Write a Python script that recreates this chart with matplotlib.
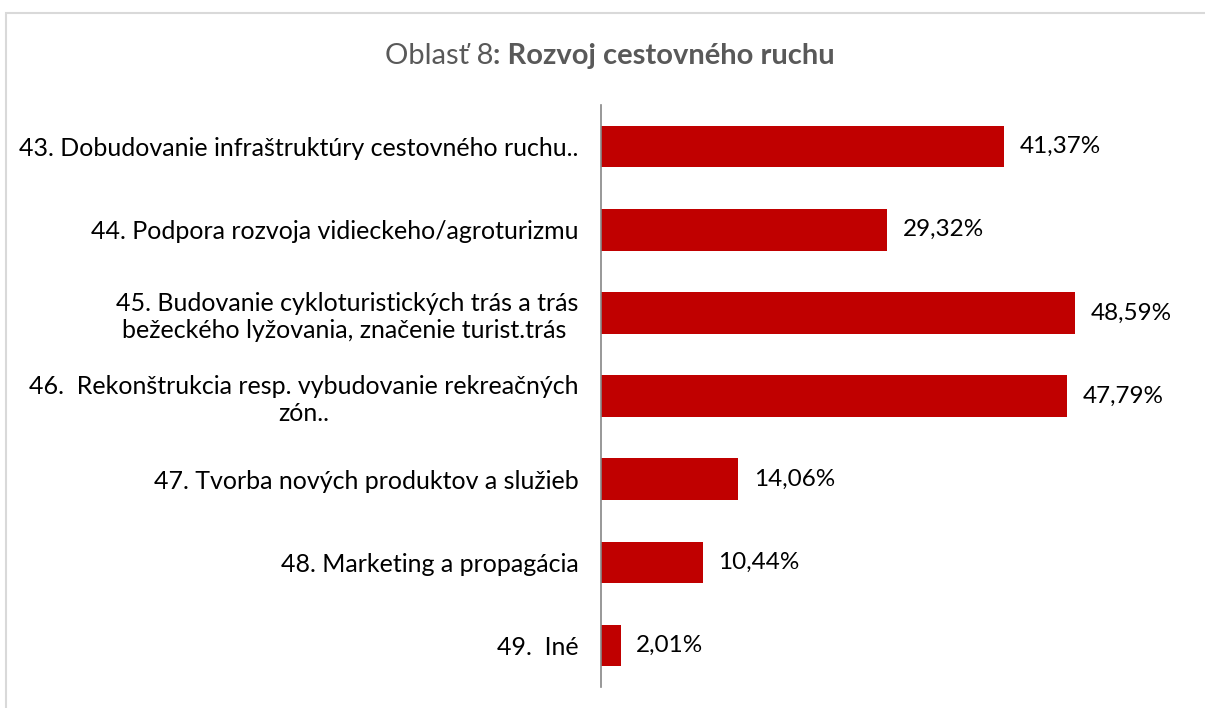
import matplotlib.pyplot as plt
from matplotlib.patches import Rectangle

plt.rcParams["font.family"] = ["Lato", "DejaVu Sans"]

categories = [
    "43. Dobudovanie infraštruktúry cestovného ruchu..",
    "44. Podpora rozvoja vidieckeho/agroturizmu",
    "45. Budovanie cykloturistických trás a trás\nbežeckého lyžovania, značenie turist.trás ",
    "46.  Rekonštrukcia resp. vybudovanie rekreačných\nzón..",
    "47. Tvorba nových produktov a služieb",
    "48. Marketing a propagácia",
    "49.  Iné",
]
values = [41.37, 29.32, 48.59, 47.79, 14.06, 10.44, 2.01]

bar_color = "#C00000"

fig = plt.figure(figsize=(12.05, 7.08), dpi=100)

# light frame around the chart area
fig.patches.append(Rectangle((5.5 / 1205, -0.1), 1.2, 1 - 13 / 708 + 0.1,
                             transform=fig.transFigure, fill=False,
                             edgecolor="#D9D9D9", linewidth=1.5))

ax = fig.add_axes([601 / 1205, 21 / 708, 585 / 1205, 582 / 708])
pos = list(range(len(categories)))
ax.barh(pos, values, height=0.5, color=bar_color)
ax.set_xlim(0, 60)
ax.set_ylim(len(categories) - 0.5, -0.5)

for p, v in zip(pos, values):
    ax.text(v + 1.6, p, f"{v:.2f}%".replace(".", ","), va="center", ha="left",
            fontsize=17.5, color="#000000")

ax.set_yticks(pos)
ax.set_yticklabels(categories, fontsize=18, color="#000000")
for lbl in ax.get_yticklabels():
    lbl.set_multialignment("center")
    lbl.set_linespacing(1.2)
ax.tick_params(axis="y", length=0, pad=16)
ax.set_xticks([])

for side in ["top", "right", "bottom"]:
    ax.spines[side].set_visible(False)
ax.spines["left"].set_color("#868686")
ax.spines["left"].set_linewidth(1.2)

title_y = 1 - 56 / 708
t1 = fig.text(0, title_y, "Oblasť 8", fontsize=21, color="#595959", va="center", ha="left")
t2 = fig.text(0, title_y, ": Rozvoj cestovného ruchu", fontsize=21, color="#595959",
              fontweight="bold", va="center", ha="left")

# center the two-part title as one line
fig.canvas.draw()
r = fig.canvas.get_renderer()
w1 = t1.get_window_extent(r).width
w2 = t2.get_window_extent(r).width
x0 = 610 - (w1 + w2) / 2
t1.set_x(x0 / 1205)
t2.set_x((x0 + w1) / 1205)

fig.savefig("out.png", dpi=100)
